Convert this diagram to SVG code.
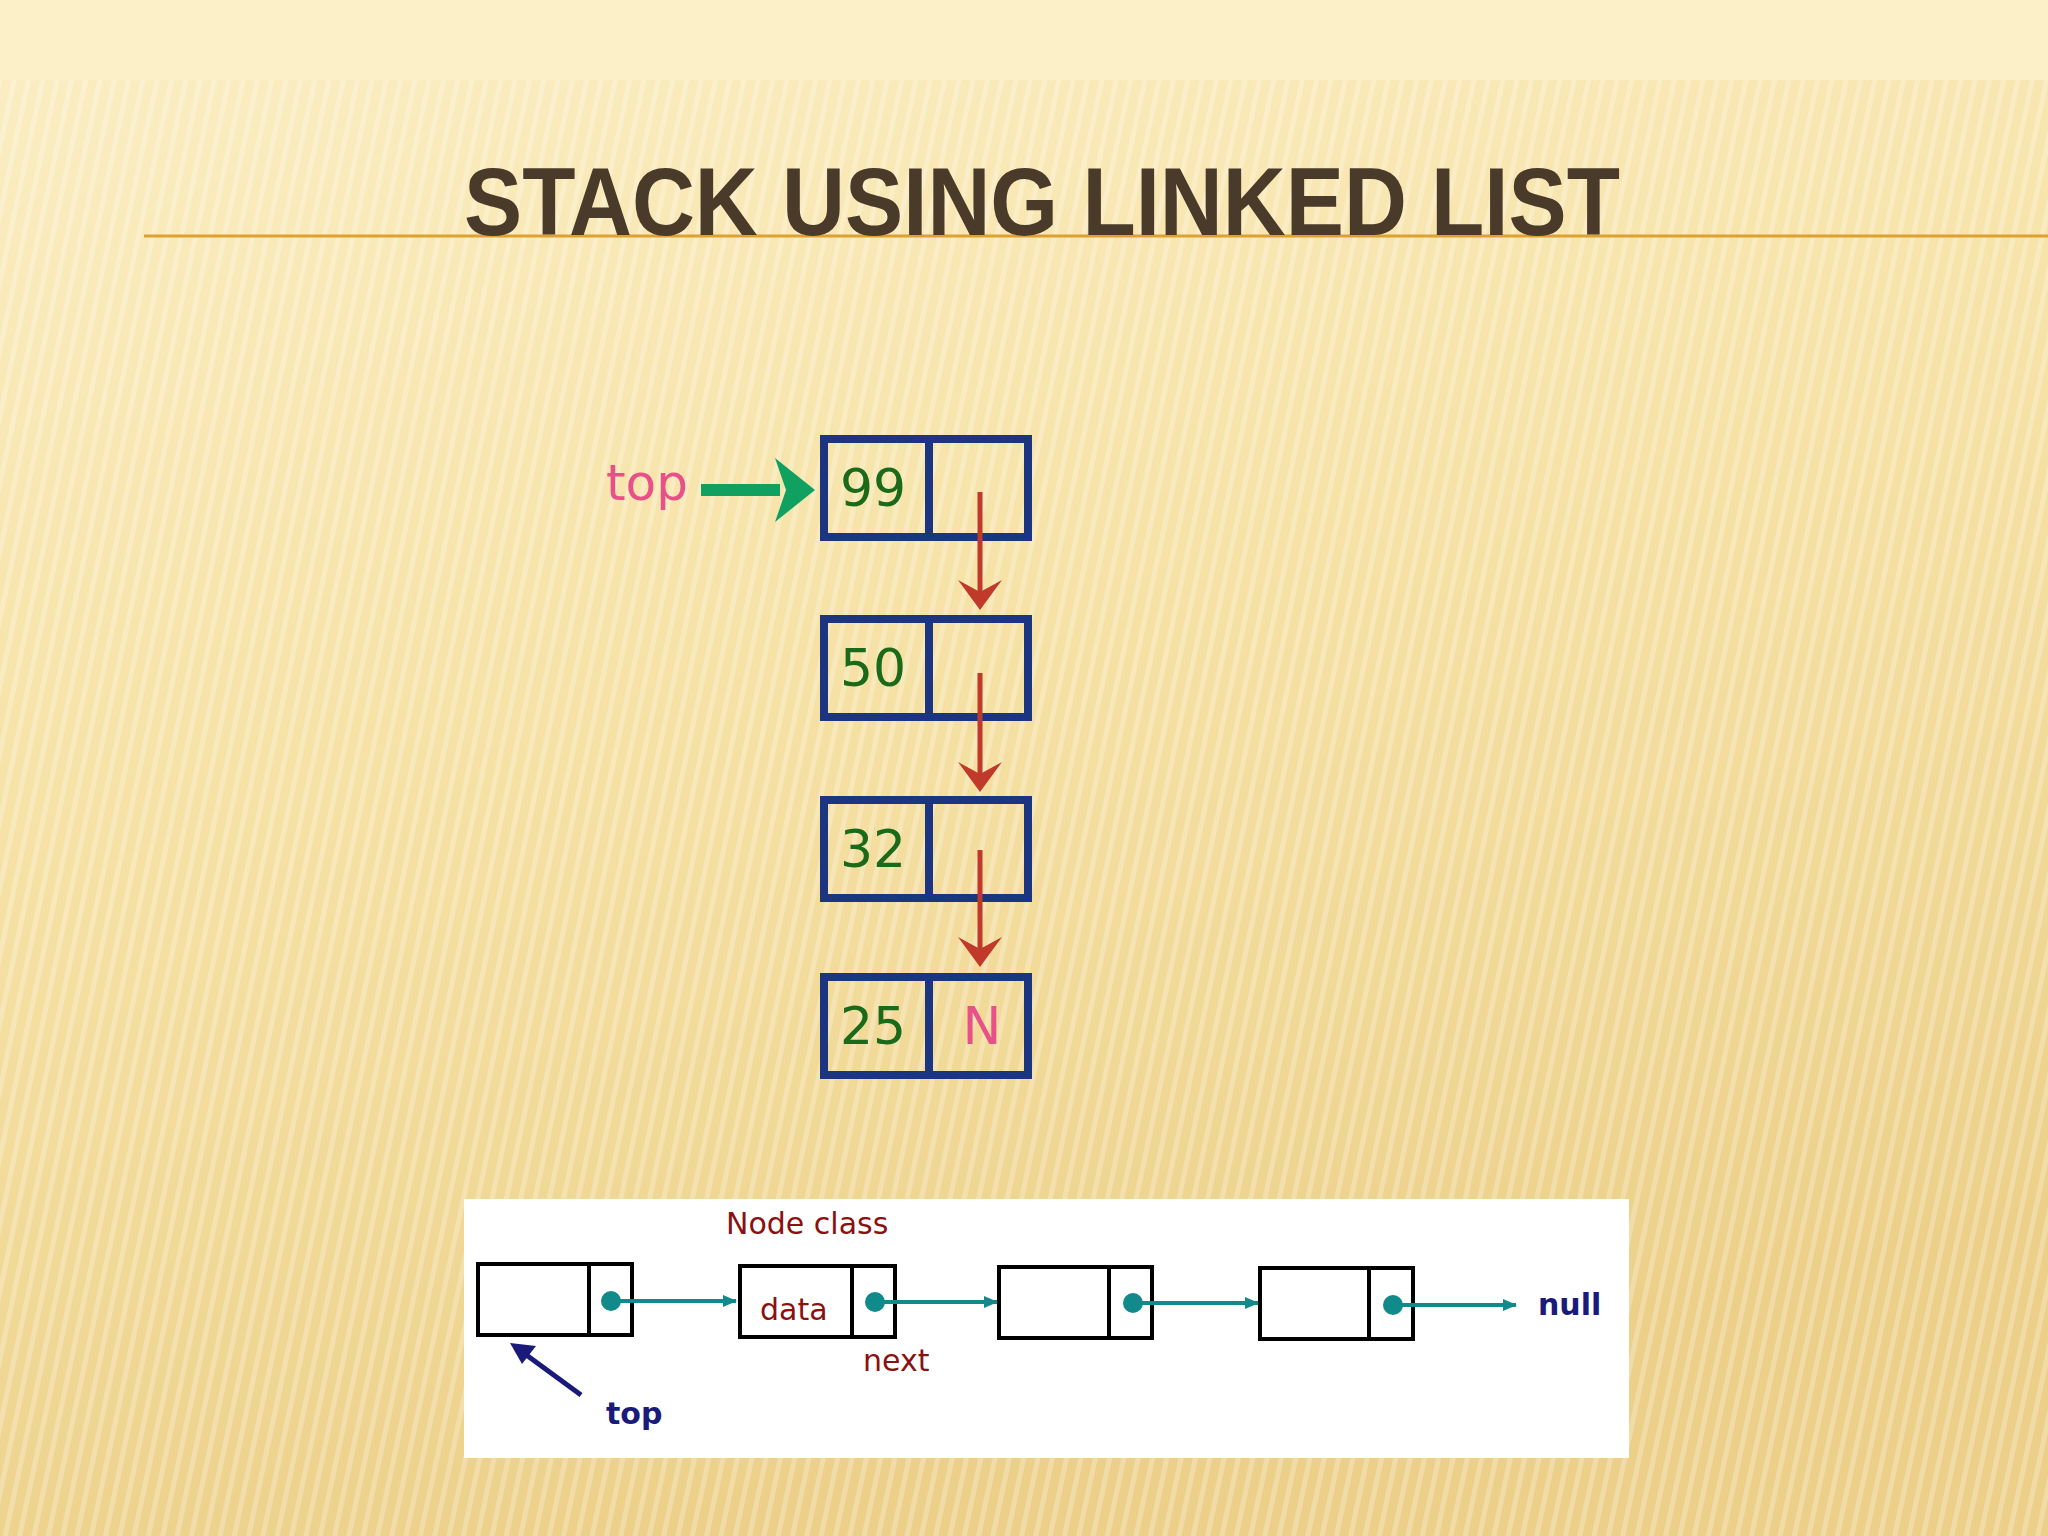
<svg xmlns="http://www.w3.org/2000/svg" width="2048" height="1536" viewBox="0 0 2048 1536">
<defs>
<linearGradient id="bg" x1="0" y1="0" x2="0.3" y2="1">
<stop offset="0" stop-color="#fbeec4"/><stop offset="0.5" stop-color="#f6e2a6"/><stop offset="1" stop-color="#ecd08a"/>
</linearGradient>
<pattern id="st" width="14" height="14" patternUnits="userSpaceOnUse" patternTransform="rotate(12)">
<rect width="5" height="14" fill="#ffffff" opacity="0.25"/>
</pattern>
<marker id="ta" markerWidth="14" markerHeight="14" refX="13" refY="7" orient="auto" markerUnits="userSpaceOnUse"><path d="M0,1 L14,7 L0,13 z" fill="#108a8a"/></marker>
<style>
.bx{fill:none;stroke:#1c3580;stroke-width:8}
.num{font-family:"DejaVu Sans",sans-serif;font-size:52px;fill:#1a6a1a;text-anchor:middle}
.red{stroke:#c0392b;stroke-width:5;fill:none}
.nb{fill:none;stroke:#000;stroke-width:4}
.tl{stroke:#108a8a;stroke-width:4;fill:none}
.lb{font-family:"DejaVu Sans",sans-serif;font-size:30px}
</style>
</defs>
<rect width="2048" height="1536" fill="url(#bg)"/>
<rect y="80" width="2048" height="1456" fill="url(#st)"/>
<rect width="2048" height="80" fill="#fcf0c8"/>
<line x1="144" y1="236" x2="2048" y2="236" stroke="#e0a030" stroke-width="3"/>
<text x="464" y="235" font-family="'Liberation Sans',sans-serif" font-size="96" font-weight="bold" fill="#4a3a2a" textLength="1156" lengthAdjust="spacingAndGlyphs">STACK USING LINKED LIST</text>
<g id="top1"><text x="606" y="500" font-family="'DejaVu Sans',sans-serif" font-size="50" fill="#e8508a">top</text></g>
<g id="n99"><rect class="bx" x="824" y="439" width="204" height="98"/><line class="bx" x1="929" y1="439" x2="929" y2="537"/><text class="num" x="873" y="506">99</text></g>
<g id="n50"><rect class="bx" x="824" y="619" width="204" height="98"/><line class="bx" x1="929" y1="619" x2="929" y2="717"/><text class="num" x="873" y="686">50</text></g>
<g id="n32"><rect class="bx" x="824" y="800" width="204" height="98"/><line class="bx" x1="929" y1="800" x2="929" y2="898"/><text class="num" x="873" y="867">32</text></g>
<g id="n25"><rect class="bx" x="824" y="977" width="204" height="98"/><line class="bx" x1="929" y1="977" x2="929" y2="1075"/><text class="num" x="873" y="1044">25</text><text class="num" x="982" y="1044" style="fill:#e8508a">N</text></g>
<g id="connectors">
<line x1="701" y1="490" x2="780" y2="490" stroke="#10a060" stroke-width="12"/>
<path d="M775,458 L815,490 L775,522 L786,490 z" fill="#10a060"/>
<line class="red" x1="980" y1="492" x2="980" y2="600"/>
<path d="M958,580 L980,610 L1002,580 L980,592 z" fill="#c0392b"/>
<line class="red" x1="980" y1="673" x2="980" y2="780"/>
<path d="M958,762 L980,792 L1002,762 L980,774 z" fill="#c0392b"/>
<line class="red" x1="980" y1="850" x2="980" y2="955"/>
<path d="M958,937 L980,967 L1002,937 L980,949 z" fill="#c0392b"/>
</g>
<rect id="panel" x="464" y="1199" width="1165" height="259" fill="#fff"/>
<g id="b1"><rect class="nb" x="478" y="1264" width="154" height="71"/><line class="nb" x1="589" y1="1264" x2="589" y2="1335"/></g>
<g id="b2"><rect class="nb" x="740" y="1266" width="155" height="71"/><line class="nb" x1="852" y1="1266" x2="852" y2="1337"/><text class="lb" x="760" y="1320" fill="#8b1010">data</text></g>
<g id="b3"><rect class="nb" x="999" y="1267" width="153" height="71"/><line class="nb" x1="1109" y1="1267" x2="1109" y2="1338"/></g>
<g id="b4"><rect class="nb" x="1260" y="1268" width="153" height="71"/><line class="nb" x1="1369" y1="1268" x2="1369" y2="1339"/></g>
<g id="connectors2">
<circle cx="611" cy="1301" r="10" fill="#108a8a"/><line class="tl" x1="611" y1="1301" x2="736" y2="1301" marker-end="url(#ta)"/>
<circle cx="875" cy="1302" r="10" fill="#108a8a"/><line class="tl" x1="875" y1="1302" x2="997" y2="1302" marker-end="url(#ta)"/>
<circle cx="1133" cy="1303" r="10" fill="#108a8a"/><line class="tl" x1="1133" y1="1303" x2="1258" y2="1303" marker-end="url(#ta)"/>
<circle cx="1393" cy="1305" r="10" fill="#108a8a"/><line class="tl" x1="1393" y1="1305" x2="1516" y2="1305" marker-end="url(#ta)"/>
<line x1="581" y1="1395" x2="525" y2="1354" stroke="#1a1a7a" stroke-width="5"/>
<path d="M510,1343 L536,1346 L522,1364 z" fill="#1a1a7a"/>
</g>
<text class="lb" x="726" y="1234" fill="#8b1010">Node class</text>
<text class="lb" x="863" y="1371" fill="#8b1010">next</text>
<text class="lb" x="1538" y="1315" fill="#1a1a7a" font-weight="bold">null</text>
<text class="lb" x="606" y="1424" fill="#1a1a7a" font-weight="bold">top</text>
</svg>
